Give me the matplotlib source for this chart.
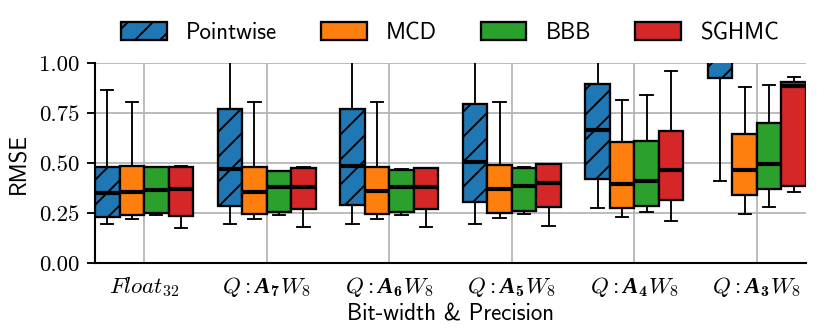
import matplotlib
matplotlib.use("Agg")
import matplotlib.pyplot as plt
from matplotlib.patches import Patch

DPI = 150
k = 150 / DPI  # sizes below were tuned at 150 dpi

plt.rcParams['font.family'] = 'cmss10'
plt.rcParams['mathtext.fontset'] = 'custom'
plt.rcParams['mathtext.rm'] = 'cmr10'
plt.rcParams['mathtext.it'] = 'cmmi10'
plt.rcParams['mathtext.bf'] = 'cmb10'
plt.rcParams['mathtext.bfit'] = 'Liberation Serif:italic:bold'
plt.rcParams['axes.unicode_minus'] = False
plt.rcParams['hatch.linewidth'] = 0.9 * k

# categories on the x axis
groups = [r'$Float_{32}$', r'$Q: \mathbfit{A}_{\mathbf{7}} W_8$', r'$Q: \mathbfit{A}_{\mathbf{6}} W_8$',
          r'$Q: \mathbfit{A}_{\mathbf{5}} W_8$', r'$Q: \mathbfit{A}_{\mathbf{4}} W_8$',
          r'$Q: \mathbfit{A}_{\mathbf{3}} W_8$']
methods = ['Pointwise', 'MCD', 'BBB', 'SGHMC']
colors = ['#1f77b4', '#ff7f0e', '#2ca02c', '#d62728']

# box statistics, one list per method (6 groups each)
pw_lo = [0.193, 0.193, 0.197, 0.197, 0.277, 0.410]
pw_q1 = [0.230, 0.283, 0.288, 0.303, 0.418, 0.927]
pw_med = [0.350, 0.472, 0.485, 0.507, 0.667, 1.100]
pw_q3 = [0.480, 0.772, 0.772, 0.793, 0.893, 1.300]
pw_hi = [0.863, 1.300, 1.300, 1.300, 1.300, 1.600]

mcd_lo = [0.218, 0.218, 0.222, 0.225, 0.230, 0.243]
mcd_q1 = [0.240, 0.243, 0.243, 0.252, 0.275, 0.342]
mcd_med = [0.353, 0.355, 0.360, 0.370, 0.397, 0.463]
mcd_q3 = [0.483, 0.480, 0.480, 0.488, 0.605, 0.643]
mcd_hi = [0.805, 0.803, 0.805, 0.805, 0.817, 0.880]

bbb_lo = [0.238, 0.238, 0.240, 0.243, 0.253, 0.278]
bbb_q1 = [0.250, 0.257, 0.257, 0.258, 0.287, 0.372]
bbb_med = [0.367, 0.380, 0.380, 0.383, 0.408, 0.493]
bbb_q3 = [0.480, 0.460, 0.467, 0.477, 0.610, 0.698]
bbb_hi = [0.482, 0.462, 0.469, 0.479, 0.840, 0.888]

sg_lo = [0.177, 0.180, 0.180, 0.183, 0.212, 0.353]
sg_q1 = [0.233, 0.270, 0.270, 0.280, 0.313, 0.383]
sg_med = [0.370, 0.380, 0.380, 0.400, 0.467, 0.885]
sg_q3 = [0.480, 0.477, 0.473, 0.493, 0.658, 0.903]
sg_hi = [0.483, 0.479, 0.475, 0.495, 0.958, 0.932]

stats_by_method = [
    (pw_lo, pw_q1, pw_med, pw_q3, pw_hi),
    (mcd_lo, mcd_q1, mcd_med, mcd_q3, mcd_hi),
    (bbb_lo, bbb_q1, bbb_med, bbb_q3, bbb_hi),
    (sg_lo, sg_q1, sg_med, sg_q3, sg_hi),
]

fig = plt.figure(figsize=(830 / DPI, 332 / DPI), dpi=DPI)
ax = fig.add_axes([0.1145, 0.208, 0.8565, 0.602])

fs = 11 * k
width = 0.2
offsets = [-0.3, -0.1, 0.1, 0.3]
for m, (lo, q1, med, q3, hi) in enumerate(stats_by_method):
    bstats = []
    for g in range(len(groups)):
        bstats.append(dict(whislo=lo[g], q1=q1[g], med=med[g], q3=q3[g], whishi=hi[g], fliers=[]))
    pos = [g + offsets[m] for g in range(len(groups))]
    res = ax.bxp(bstats, positions=pos, widths=width, patch_artist=True, showfliers=False,
                 boxprops=dict(facecolor=colors[m], edgecolor='black', linewidth=1.1 * k),
                 medianprops=dict(color='black', linewidth=2.0 * k),
                 whiskerprops=dict(color='black', linewidth=0.9 * k),
                 capprops=dict(color='black', linewidth=0.9 * k),
                 capwidths=width * 0.5, manage_ticks=False, zorder=3)
    if m == 0:
        for b in res['boxes']:
            b.set_hatch('//')

ax.set_xlim(-0.4, 5.4)
ax.set_ylim(0, 1.0)
ax.set_xticks(range(len(groups)))
ax.set_xticklabels(groups, fontsize=fs)
ax.set_yticks([0, 0.25, 0.5, 0.75, 1.0])
ax.set_yticklabels(['0.00', '0.25', '0.50', '0.75', '1.00'], fontfamily='cmr10', fontsize=fs)
ax.tick_params(axis='x', length=0, pad=6 * k)
ax.tick_params(axis='y', length=4 * k, width=0.9 * k)
ax.grid(True, color='#b0b0b0', linewidth=0.8 * k, zorder=0)
ax.set_axisbelow(True)
for s in ['top', 'right']:
    ax.spines[s].set_visible(False)
for s in ['left', 'bottom']:
    ax.spines[s].set_linewidth(1.0 * k)

ax.set_ylabel('RMSE', fontsize=fs)
ax.set_xlabel('Bit-width & Precision', fontsize=fs, labelpad=2 * k)

handles = [Patch(facecolor=c, edgecolor='black', linewidth=1.1 * k, hatch='//' if i == 0 else None)
           for i, c in enumerate(colors)]
fig.legend(handles, methods, loc='center', bbox_to_anchor=(0.542, 0.9), ncol=4, frameon=False,
           fontsize=fs, handlelength=2.0, handleheight=0.8, handletextpad=0.85, columnspacing=1.9)

fig.savefig('out.png', dpi=DPI)
